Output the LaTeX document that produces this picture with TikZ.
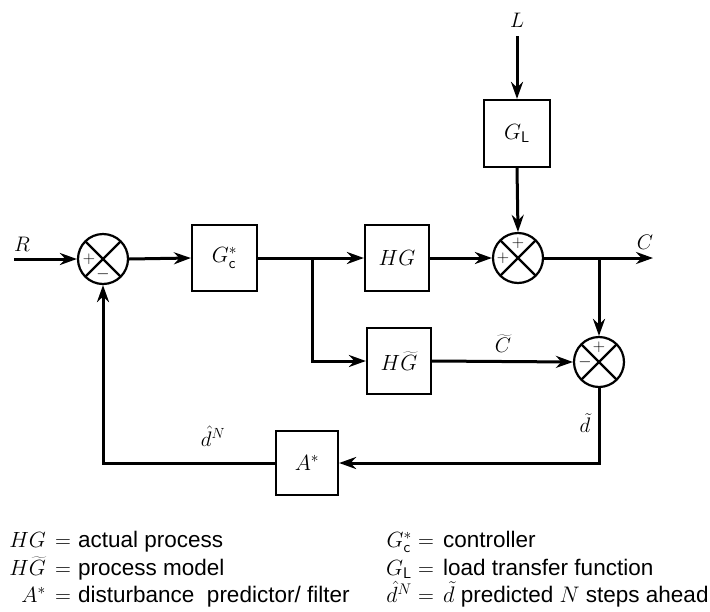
\RequirePackage{fix-cm}
\documentclass[tikz,border=0pt]{standalone}
\usepackage{fontspec}
\newfontfamily\lgd{Liberation Sans}
\usetikzlibrary{arrows.meta}
\begin{document}
\begin{tikzpicture}[x=1pt,y=-1pt,
  box/.style={draw,line width=2.2pt,minimum width=64pt,minimum height=66pt,inner sep=0pt,font=\fontsize{22}{26}\selectfont},
  sumj/.style={circle,draw,line width=2.2pt,minimum size=50pt,inner sep=0pt,
    path picture={\draw[line width=2.2pt] (path picture bounding box.north west)--(path picture bounding box.south east)
      (path picture bounding box.north east)--(path picture bounding box.south west);}},
  wire/.style={line width=3pt},
  arr/.style={wire,-{Stealth[length=17pt,width=12pt,inset=5.5pt]}},
  lbl/.style={font=\fontsize{21}{25}\selectfont,inner sep=0pt},
  sgn/.style={font=\fontsize{17}{20}\selectfont,inner sep=0pt},
  leg/.style={font=\fontsize{22.5}{26}\selectfont\lgd,inner sep=0pt,anchor=base west},
  legl/.style={font=\fontsize{22}{26}\selectfont,inner sep=0pt,anchor=base east},
  legeq/.style={font=\fontsize{22}{26}\selectfont,inner sep=0pt,anchor=base}
]
\fill[white] (0,0) rectangle (710,611);
\useasboundingbox (0,0) rectangle (710,611);

% blocks
\node[sumj] (sum1) at (103,259) {};
\node[box,minimum width=65pt] (gc) at (224.5,258) {$G^{*}_{\mathsf{c}}$};
\node[box] (hg) at (397,258) {$HG$};
\node[box] (hgt) at (399,361) {$H\widetilde{G}$};
\node[sumj] (sum2) at (518,258) {};
\node[box,minimum width=66pt,minimum height=67pt] (gl) at (517,133.5) {$G_{\mathsf{L}}$};
\node[sumj] (sum3) at (599,362) {};
\node[box,minimum width=62pt,minimum height=64pt] (astar) at (307,463) {$A^{*}$};

% signs
\node[sgn] (s1a) at (89,259) {$+$};
\node[sgn] (s1b) at (103,274) {$-$};
\node[sgn] (s2a) at (518,243) {$+$};
\node[sgn] (s2b) at (503,258) {$+$};
\node[sgn] (s3a) at (599,347) {$+$};
\node[sgn] (s3b) at (585,362) {$-$};

% free ends and branch points
\coordinate (rin) at (14,259);
\coordinate (lin) at (517,36);
\coordinate (cout) at (653,258);
\coordinate (br1) at (312,258);
\coordinate (br2) at (599,258);

% labels
\node[lbl] (rlab) at (22,244) {$R$};
\node[lbl] (clab) at (645,242) {$C$};
\node[lbl] (llab) at (517,20) {$L$};
\node[lbl] (ctlab) at (503,344) {$\widetilde{C}$};
\node[lbl] (dtlab) at (585,423) {$\tilde{d}$};
\node[lbl] (dnlab) at (213,436) {$\hat{d}^{N}$};

% connectors
\draw[arr] (rin) -- (sum1.west);
\draw[arr] (sum1.east) -- (gc.west);
\draw[arr] (gc.east) -- (hg.west);
\draw[arr] (br1) |- (hgt.west);
\draw[arr] (hg.east) -- (sum2.west);
\draw[arr] (lin) -- (gl.north);
\draw[arr] (gl.south) -- (sum2.north);
\draw[arr] (sum2.east) -- (cout);
\draw[arr] (br2) -- (sum3.north);
\draw[arr] (hgt.east) -- (sum3.west);
\draw[arr] (sum3.south) |- (astar.east);
\draw[arr] (astar.west) -| (sum1.south);

% legend, left column
\node[legl] (l1a) at (46,547) {$HG$};
\node[legeq] (l1b) at (63,547) {$=$};
\node[leg] (l1c) at (78,547) {actual process};
\node[legl] (l2a) at (46,575) {$H\widetilde{G}$};
\node[legeq] (l2b) at (63,575) {$=$};
\node[leg] (l2c) at (78,575) {process model};
\node[legl] (l3a) at (46,602) {$A^{*}$};
\node[legeq] (l3b) at (63,602) {$=$};
\node[leg] (l3c) at (78,602) {disturbance\ \ predictor/ filter};

% legend, right column
\node[legl] (r1a) at (412,547) {$G^{*}_{\mathsf{c}}$};
\node[legeq] (r1b) at (426,547) {$=$};
\node[leg] (r1c) at (443,547) {controller};
\node[legl] (r2a) at (412,575) {$G_{\mathsf{L}}$};
\node[legeq] (r2b) at (426,575) {$=$};
\node[leg] (r2c) at (443,575) {load transfer function};
\node[legl] (r3a) at (412,602) {$\hat{d}^{N}$};
\node[legeq] (r3b) at (426,602) {$=$};
\node[leg] (r3c) at (443,602) {$\tilde{d}$ predicted $N$ steps ahead};
\end{tikzpicture}
\end{document}
